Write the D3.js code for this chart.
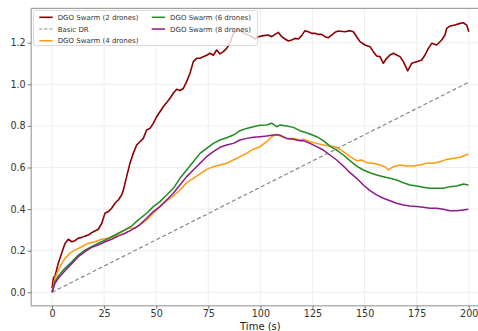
<!DOCTYPE html>
<html>
<head>
<meta charset="utf-8">
<script src="https://cdn.jsdelivr.net/npm/d3@7"></script>
<style>
  body { margin: 0; background: #fff; }
  text { font-family: "DejaVu Sans", sans-serif; }
</style>
</head>
<body>
<script>
// ---- data ----
const xTicks = [0, 25, 50, 75, 100, 125, 150, 175, 200];
const yTicks = [0.0, 0.2, 0.4, 0.6, 0.8, 1.0, 1.2];

const t2 = [0, 0.7, 1.5, 3.0, 4.7, 6.2, 7.8, 9.5, 11.0, 12.6, 14.3, 15.8, 17.4, 19.0, 20.6, 22.2, 23.8, 25.4, 27.0, 28.6,
  30.2, 31.8, 33.4, 34.2, 35.8, 37.4, 39.0, 40.6, 42.2, 43.8, 45.4, 47.0, 48.6, 50.2, 51.8, 53.4, 55.0, 56.6, 58.2, 59.8,
  61.4, 63.0, 64.6, 66.2, 67.8, 69.4, 71.0, 72.6, 74.2, 75.8, 77.4, 79.0, 80.6, 82.2, 83.8, 85.4, 87.0, 89.4, 91.0, 93.4,
  95.8, 97.4, 99.0, 101.4, 103.8, 105.4, 107.0, 108.6, 110.2, 111.8, 113.4, 115.0, 116.6, 118.2, 119.8, 121.4, 123.0, 124.6, 126.2, 127.8,
  129.4, 131.0, 132.6, 134.2, 135.8, 137.4, 140.6, 143.0, 144.6, 146.2, 147.8, 150.2, 152.6, 154.2, 155.8, 157.4, 159.0, 160.6, 162.2, 163.8,
  165.4, 167.0, 168.6, 170.7, 172.6, 175.0, 177.4, 179.0, 180.6, 182.2, 184.6, 187.0, 188.6, 189.4, 191.0, 193.4, 195.8, 197.4, 199.0, 200.0];
const v2 = [0.02, 0.07, 0.08, 0.14, 0.19, 0.235, 0.255, 0.243, 0.248, 0.26, 0.264, 0.27, 0.275, 0.287, 0.295, 0.303, 0.33, 0.38, 0.388, 0.404,
  0.428, 0.444, 0.468, 0.49, 0.556, 0.62, 0.668, 0.708, 0.724, 0.74, 0.78, 0.788, 0.812, 0.844, 0.868, 0.892, 0.912, 0.933, 0.957, 0.976,
  0.97, 0.98, 1.013, 1.053, 1.109, 1.125, 1.125, 1.133, 1.14, 1.149, 1.14, 1.165, 1.146, 1.157, 1.173, 1.197, 1.245, 1.261, 1.253, 1.24,
  1.229, 1.218, 1.229, 1.234, 1.237, 1.229, 1.24, 1.25, 1.229, 1.218, 1.208, 1.213, 1.221, 1.218, 1.234, 1.258, 1.253, 1.245, 1.245, 1.24,
  1.24, 1.229, 1.224, 1.237, 1.25, 1.256, 1.253, 1.258, 1.253, 1.229, 1.205, 1.189, 1.181, 1.157, 1.136, 1.133, 1.101, 1.125, 1.141, 1.149,
  1.141, 1.133, 1.109, 1.065, 1.101, 1.109, 1.117, 1.141, 1.173, 1.197, 1.189, 1.213, 1.237, 1.269, 1.28, 1.285, 1.293, 1.296, 1.285, 1.253];

const tDR = [0, 200];
const vDR = [0, 1.01];

const t4 = [0, 1.4, 3.0, 4.7, 6.2, 8.6, 11.0, 14.3, 17.4, 20.6, 23.8, 27.0, 30.2, 33.4, 36.6, 39.8, 42.2, 45.4, 48.6, 51.8,
  55.0, 58.2, 61.4, 64.6, 67.8, 71.0, 74.2, 77.4, 80.6, 83.8, 87.0, 90.2, 93.4, 96.6, 99.8, 103.0, 105.4, 107.8, 109.4, 112.6,
  115.8, 119.0, 120.6, 123.8, 127.0, 130.2, 133.4, 136.6, 139.8, 143.0, 146.2, 148.6, 151.0, 154.2, 157.4, 159.8, 161.4, 163.8, 167.0, 170.2,
  173.4, 176.6, 179.8, 183.0, 186.2, 189.4, 192.6, 195.8, 199.8];
const v4 = [0, 0.067, 0.107, 0.139, 0.163, 0.188, 0.203, 0.219, 0.236, 0.243, 0.255, 0.26, 0.271, 0.291, 0.308, 0.308, 0.324, 0.348, 0.38, 0.412,
  0.44, 0.463, 0.492, 0.527, 0.548, 0.569, 0.591, 0.604, 0.612, 0.62, 0.636, 0.652, 0.668, 0.688, 0.7, 0.724, 0.748, 0.761, 0.751, 0.74,
  0.74, 0.732, 0.736, 0.724, 0.716, 0.708, 0.703, 0.697, 0.676, 0.652, 0.633, 0.636, 0.623, 0.62, 0.612, 0.604, 0.588, 0.604, 0.612, 0.607,
  0.607, 0.612, 0.62, 0.62, 0.628, 0.639, 0.644, 0.649, 0.665];

const t6 = [0, 1.4, 3.0, 6.2, 9.5, 12.6, 15.8, 19.0, 22.2, 25.4, 28.6, 31.8, 35.0, 38.2, 41.4, 45.4, 48.6, 51.8, 55.0, 58.2,
  61.4, 64.6, 67.8, 71.0, 74.2, 77.4, 80.6, 83.8, 87.0, 90.2, 93.4, 96.6, 99.8, 103.0, 105.4, 107.8, 109.4, 112.6, 115.8, 119.0,
  120.6, 123.8, 127.0, 130.2, 133.4, 136.6, 139.8, 143.0, 146.2, 149.4, 152.6, 155.8, 159.0, 162.2, 165.4, 168.6, 171.8, 175.0, 178.2, 181.4,
  184.6, 187.8, 191.0, 194.2, 197.4, 199.8];
const v6 = [0, 0.051, 0.078, 0.115, 0.147, 0.179, 0.203, 0.219, 0.236, 0.251, 0.267, 0.284, 0.3, 0.319, 0.348, 0.38, 0.412, 0.436, 0.468, 0.5,
  0.548, 0.588, 0.628, 0.668, 0.692, 0.716, 0.732, 0.743, 0.756, 0.777, 0.788, 0.796, 0.803, 0.804, 0.813, 0.796, 0.804, 0.8, 0.793, 0.777,
  0.772, 0.761, 0.748, 0.729, 0.703, 0.684, 0.66, 0.633, 0.607, 0.588, 0.575, 0.564, 0.556, 0.548, 0.54, 0.527, 0.516, 0.511, 0.505, 0.5,
  0.5, 0.5, 0.508, 0.511, 0.521, 0.516];

const t8 = [0, 1.4, 3.0, 6.2, 9.5, 12.6, 15.8, 19.0, 22.2, 25.4, 28.6, 31.8, 35.0, 38.2, 41.4, 45.4, 48.6, 51.8, 55.0, 58.2,
  61.4, 64.6, 67.8, 71.0, 74.2, 77.4, 80.6, 83.8, 87.0, 90.2, 93.4, 96.6, 99.8, 103.0, 106.2, 109.4, 112.6, 115.8, 119.0, 120.6,
  123.8, 127.0, 130.2, 133.4, 136.6, 139.8, 143.0, 146.2, 149.4, 152.6, 155.8, 159.0, 162.2, 165.4, 168.6, 171.8, 175.0, 178.2, 181.4, 184.6,
  187.8, 191.0, 194.2, 197.4, 199.8];
const v8 = [0, 0.043, 0.067, 0.104, 0.139, 0.171, 0.195, 0.216, 0.227, 0.243, 0.255, 0.271, 0.284, 0.3, 0.319, 0.356, 0.388, 0.412, 0.444, 0.476,
  0.516, 0.556, 0.588, 0.62, 0.652, 0.676, 0.697, 0.708, 0.716, 0.732, 0.74, 0.745, 0.748, 0.751, 0.756, 0.756, 0.74, 0.736, 0.729, 0.729,
  0.716, 0.7, 0.684, 0.66, 0.636, 0.607, 0.575, 0.548, 0.516, 0.489, 0.468, 0.452, 0.44, 0.428, 0.42, 0.415, 0.412, 0.409, 0.404, 0.404,
  0.399, 0.392, 0.392, 0.396, 0.399];

// ---- chart ----
const W = 478, H = 331;
const plot = { left: 31.2, right: 489.6, top: 8.4, bottom: 305.8 };

const svg = d3.select("body").append("svg")
  .attr("width", W)
  .attr("height", H);

const x = d3.scaleLinear().domain([-10, 210]).range([plot.left, plot.right]);
const y = d3.scaleLinear().domain([-0.065, 1.365]).range([plot.bottom, plot.top]);

svg.append("defs").append("clipPath").attr("id", "clip")
  .append("rect")
  .attr("x", plot.left).attr("y", plot.top)
  .attr("width", plot.right - plot.left).attr("height", plot.bottom - plot.top);

// grid
const grid = svg.append("g").attr("stroke", "#ebebeb").attr("stroke-width", 0.8);
grid.selectAll(".gx").data(xTicks).enter().append("line")
  .attr("x1", d => x(d)).attr("x2", d => x(d))
  .attr("y1", plot.top).attr("y2", plot.bottom);
grid.selectAll(".gy").data(yTicks).enter().append("line")
  .attr("x1", plot.left).attr("x2", plot.right)
  .attr("y1", d => y(d)).attr("y2", d => y(d));

const series = [
  { name: "DGO Swarm (2 drones)", t: t2, v: v2, color: "#8b0000", width: 1.6 },
  { name: "Basic DR", t: tDR, v: vDR, color: "#888888", width: 1.2, dash: "4,2.5" },
  { name: "DGO Swarm (4 drones)", t: t4, v: v4, color: "#ff9a10", width: 1.5 },
  { name: "DGO Swarm (6 drones)", t: t6, v: v6, color: "#228b22", width: 1.5 },
  { name: "DGO Swarm (8 drones)", t: t8, v: v8, color: "#8b1a8f", width: 1.5 }
];

const line = d3.line().x(d => x(d[0])).y(d => y(d[1]));

const lines = svg.append("g").attr("clip-path", "url(#clip)");
series.forEach(s => {
  lines.append("path")
    .datum(s.t.map((t, i) => [t, s.v[i]]))
    .attr("fill", "none")
    .attr("stroke", s.color)
    .attr("stroke-width", s.width)
    .attr("stroke-linejoin", "round")
    .attr("stroke-dasharray", s.dash || null)
    .attr("d", line);
});

// frame
svg.append("rect")
  .attr("x", plot.left).attr("y", plot.top)
  .attr("width", plot.right - plot.left).attr("height", plot.bottom - plot.top)
  .attr("fill", "none").attr("stroke", "#a0a0a0").attr("stroke-width", 1.2);

// axes
const xAxis = svg.append("g")
  .attr("transform", `translate(0,${plot.bottom})`)
  .call(d3.axisBottom(x).tickValues(xTicks).tickSize(3).tickPadding(1.5));
const yAxis = svg.append("g")
  .attr("transform", `translate(${plot.left},0)`)
  .call(d3.axisLeft(y).tickValues(yTicks).tickFormat(d3.format(".1f")).tickSize(3.5).tickPadding(2));
[xAxis, yAxis].forEach(a => {
  a.select(".domain").remove();
  a.selectAll(".tick line").attr("stroke", "#555").attr("stroke-width", 0.8);
  a.selectAll(".tick text").attr("font-size", "9.6px").attr("fill", "#333")
    .attr("font-family", "DejaVu Sans, sans-serif");
});

svg.append("text")
  .attr("x", (plot.left + plot.right) / 2)
  .attr("y", 329.5)
  .attr("text-anchor", "middle")
  .attr("font-size", "10px")
  .attr("fill", "#222")
  .text("Time (s)");

// legend
const legend = svg.append("g");
legend.append("rect")
  .attr("x", 33.5).attr("y", 10.5).attr("width", 224).attr("height", 35)
  .attr("rx", 2).attr("ry", 2)
  .attr("fill", "#fff").attr("fill-opacity", 0.8)
  .attr("stroke", "#d0d0d0").attr("stroke-width", 0.8);

const cols = [39.3, 151.7];
const rows = [17.3, 29, 40.7];
const slots = [[0, 0], [0, 1], [0, 2], [1, 0], [1, 1]];
series.forEach((s, i) => {
  const [c, r] = slots[i];
  const g = legend.append("g").attr("transform", `translate(${cols[c]},${rows[r]})`);
  g.append("line")
    .attr("x1", 0).attr("x2", 13.4).attr("y1", 0).attr("y2", 0)
    .attr("stroke", s.color).attr("stroke-width", s.width)
    .attr("stroke-dasharray", s.dash ? "3,2" : null);
  g.append("text")
    .attr("x", 18.4).attr("y", 2.5)
    .attr("font-size", "7px").attr("fill", "#333")
    .text(s.name);
});
</script>
</body>
</html>
